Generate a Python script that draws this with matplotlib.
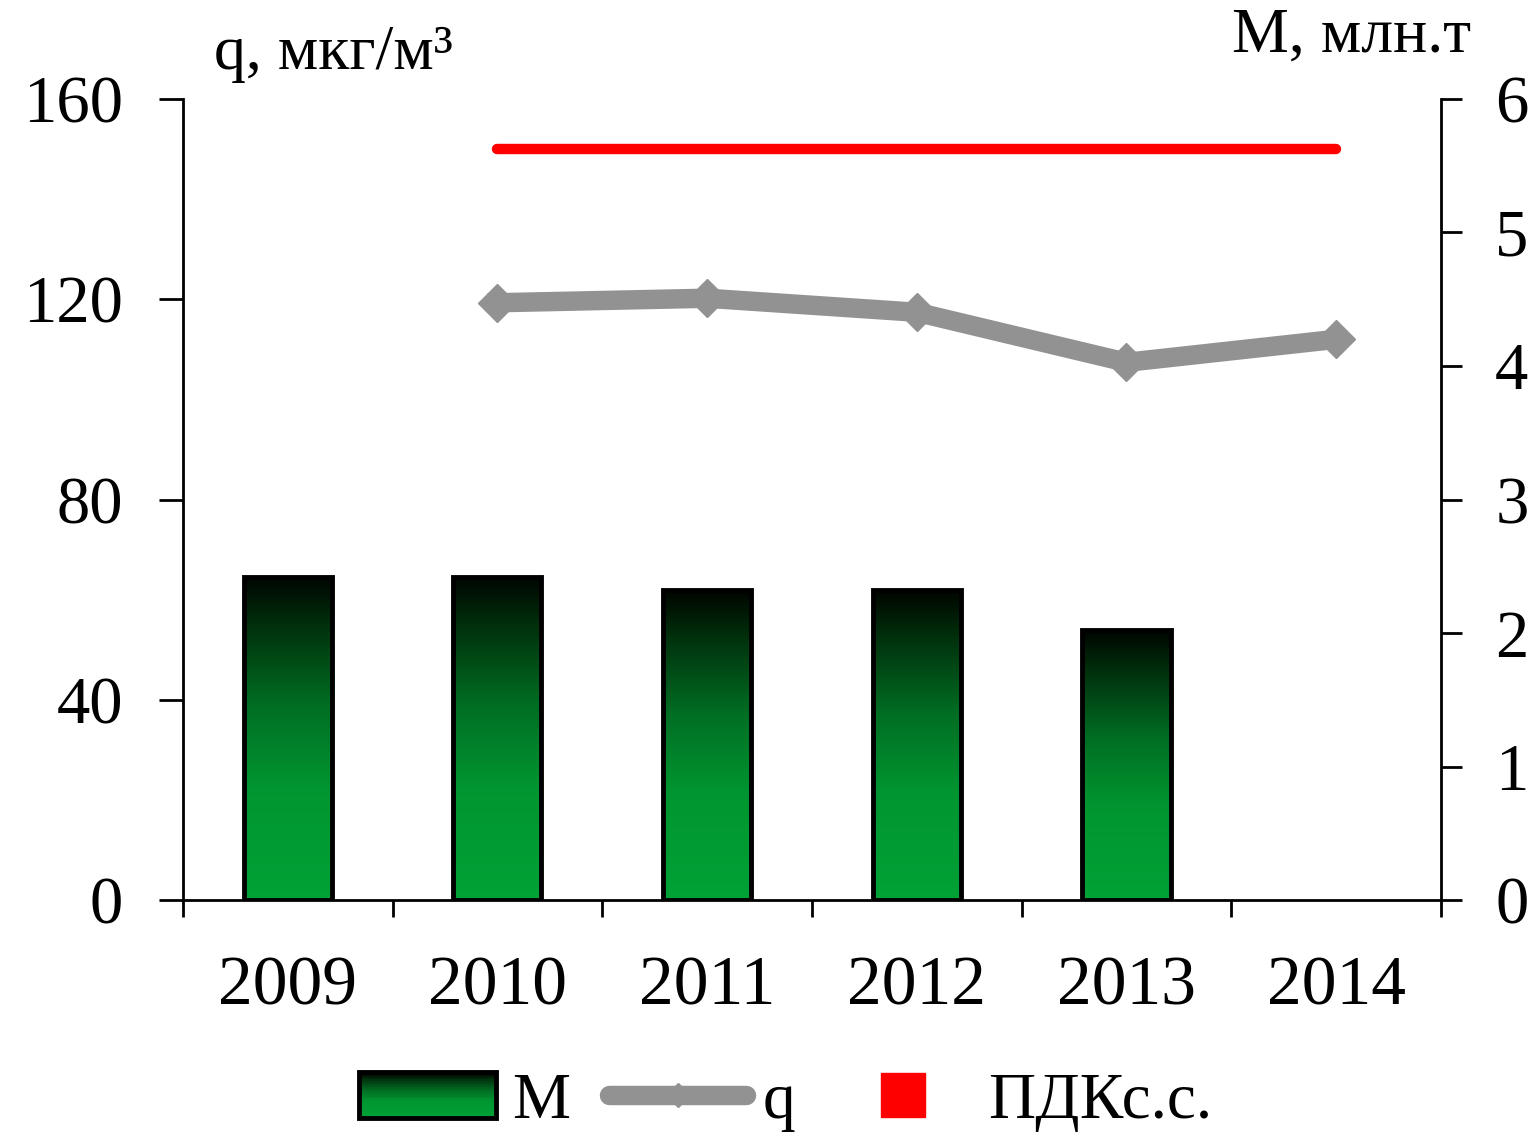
import matplotlib
matplotlib.use("Agg")
import matplotlib.pyplot as plt
import numpy as np
from matplotlib.colors import LinearSegmentedColormap
from matplotlib.legend_handler import HandlerBase
from matplotlib.lines import Line2D
from matplotlib.patches import Rectangle

plt.rcParams["font.family"] = ["Liberation Serif", "DejaVu Serif"]

years = ["2009", "2010", "2011", "2012", "2013", "2014"]
m_years = ["2009", "2010", "2011", "2012", "2013"]
m_values = [2.42, 2.42, 2.32, 2.32, 2.02]           # M, млн.т (right axis)
q_years = ["2010", "2011", "2012", "2013", "2014"]
q_values = [119.3, 120.2, 117.4, 107.4, 112.0]      # q, мкг/м3 (left axis)
pdk_years = ["2010", "2014"]
pdk_values = [150, 150]                               # ПДКс.с.

GREEN = LinearSegmentedColormap.from_list(
    "grn", [(0, "#00a236"), (0.35, "#009530"), (0.6, "#006e23"),
            (0.85, "#00300c"), (1, "#000500")])


class GradientHandler(HandlerBase):
    def create_artists(self, legend, orig_handle, xd, yd, w, h, fontsize, trans):
        arts = []
        n = 24
        for i in range(n):
            r = Rectangle((-xd, -yd + h * i / n), w, h / n + 0.3,
                          facecolor=GREEN(i / (n - 1)), edgecolor="none",
                          transform=trans)
            arts.append(r)
        arts.append(Rectangle((-xd, -yd), w, h, fill=False, edgecolor="black",
                              lw=3.5, transform=trans))
        return arts


fig = plt.figure(figsize=(15.4, 11.39), dpi=100)
ax = fig.add_axes([0.1188, 0.2098, 0.8169, 0.7033])
ax2 = ax.twinx()
ax.set_zorder(ax2.get_zorder() + 1)
ax.patch.set_visible(False)

x = np.arange(len(years))
pos = {y: i for i, y in enumerate(years)}

# bars with vertical gradient
mx = [pos[y] for y in m_years]
bars = ax2.bar(mx, m_values, width=0.42, facecolor="none", edgecolor="black",
               lw=3.5, zorder=3)
grad = np.linspace(0, 1, 256).reshape(-1, 1)
for b in bars:
    x0, w, h = b.get_x(), b.get_width(), b.get_height()
    im = ax2.imshow(grad, cmap=GREEN, origin="lower", aspect="auto",
                    extent=(x0, x0 + w, 0, h), zorder=2)
    im.set_clip_path(b)

# q line and ПДК line
ax.plot([pos[y] for y in q_years], q_values, color="#929292", lw=14,
        marker="D", markersize=19, solid_joinstyle="round", zorder=4)
ax.plot([pos[y] for y in pdk_years], pdk_values, color="#ff0000", lw=7.5,
        solid_capstyle="round", zorder=4)

ax.set_xlim(-0.5, 5.5)
ax.set_ylim(0, 160)
ax2.set_ylim(0, 6)
ax.set_yticks([0, 40, 80, 120, 160])
ax2.set_yticks(range(7))

ax.set_xticks(x)
ax.set_xticklabels(years, fontsize=50)
ax.set_xticks(np.arange(-0.5, 6, 1), minor=True)
ax.tick_params(axis="x", which="major", length=0, pad=40)
ax.tick_params(axis="x", which="minor", length=12, width=2, direction="out")
ax.tick_params(axis="y", length=17, width=2, labelsize=48, pad=26)
ax2.tick_params(axis="y", length=15, width=2, labelsize=48, pad=24)

for s in ["top", "right"]:
    ax.spines[s].set_visible(False)
for s in ["top", "left", "bottom"]:
    ax2.spines[s].set_visible(False)
ax.spines["left"].set_linewidth(2)
ax.spines["bottom"].set_linewidth(2)
ax2.spines["right"].set_linewidth(2)

fig.text(0.139, 0.927, "q, мкг/м³", fontsize=46, ha="left", va="bottom")
fig.text(0.955, 0.942, "M, млн.т", fontsize=46, ha="right", va="bottom")

handles = [Rectangle((0, 0), 1, 1),
           Line2D([], [], color="#929292", lw=14, marker="D", markersize=12,
                  solid_capstyle="round"),
           Line2D([], [], color="#ff0000", ls="none", marker="s", markersize=32)]
fig.legend(handles, ["M", "q", "ПДКс.с."], loc="lower center",
           bbox_to_anchor=(0.51, -0.045), ncol=3, frameon=False, fontsize=47,
           handlelength=2.1, handletextpad=0.25, columnspacing=0.6,
           handler_map={Rectangle: GradientHandler()})

fig.savefig("out.png", dpi=100)
